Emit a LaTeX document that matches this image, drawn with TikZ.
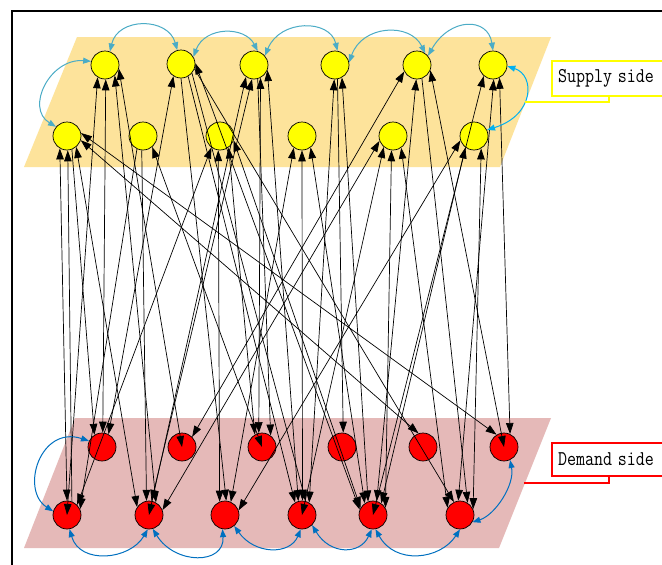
\documentclass[tikz,border=0pt]{standalone}
\usepackage{fontspec}
\usepackage{graphicx}
\usetikzlibrary{arrows.meta}
\definecolor{supbg}{RGB}{253,227,155}
\definecolor{dembg}{RGB}{229,185,184}
\definecolor{sarc}{RGB}{75,172,198}
\definecolor{sarcb}{RGB}{0,176,240}
\definecolor{darc}{RGB}{0,112,192}
\definecolor{ylw}{RGB}{255,255,0}
\definecolor{rd}{RGB}{255,0,0}
\begin{document}
\begin{tikzpicture}[x=1pt,y=-1pt,
  snode/.style={circle,draw=black,line width=0.7pt,fill=ylw,minimum size=28pt,inner sep=0pt},
  dnode/.style={circle,draw=black,line width=0.7pt,fill=rd,minimum size=28pt,inner sep=0pt},
  bi/.style={draw=black,line width=0.7pt,{Triangle[length=11pt,width=7.5pt]}-{Triangle[length=11pt,width=7.5pt]}},
  one/.style={draw=black,line width=0.7pt,-{Triangle[length=11pt,width=7.5pt]}},
  supcurve/.style={draw=sarc,line width=1pt,{Triangle[length=8pt,width=6pt]}-{Triangle[length=8pt,width=6pt]}},
  supcurveb/.style={draw=sarcb,line width=1pt,{Triangle[length=8pt,width=6pt]}-{Triangle[length=8pt,width=6pt]}},
  demcurve/.style={draw=darc,line width=1pt,{Triangle[length=8pt,width=6pt]}-{Triangle[length=8pt,width=6pt]}},
  labelbox/.style={line width=2pt,fill=white,anchor=north west,minimum width=150pt,inner xsep=6pt,text width=138pt,align=left,font=\ttfamily\fontsize{17.5}{18}\selectfont}
]
\useasboundingbox (0,0) rectangle (662,565);
\clip (0,0) rectangle (662,565);
\fill[white] (0,0) rectangle (662,565);
% frame
\draw[line width=1.6pt] (12,580) -- (12,11) -- (690,11);
% planes
\fill[supbg] (77,37) -- (551,37) -- (500,167) -- (24,167) -- cycle;
\fill[dembg] (75,418) -- (551,418) -- (499,548) -- (24,548) -- cycle;
% supply nodes
\node[snode] (T1) at (105,65) {};
\node[snode] (T2) at (181,64) {};
\node[snode] (T3) at (254,65) {};
\node[snode] (T4) at (335,65) {};
\node[snode] (T5) at (417,65) {};
\node[snode] (T6) at (493,65) {};
\node[snode] (B1) at (67,136) {};
\node[snode] (B2) at (143,136) {};
\node[snode] (B3) at (220,136) {};
\node[snode] (B4) at (302,136) {};
\node[snode] (B5) at (393,136) {};
\node[snode] (B6) at (474,136) {};
% demand nodes
\node[dnode] (U1) at (102,447) {};
\node[dnode] (U2) at (182,447) {};
\node[dnode] (U3) at (262,447) {};
\node[dnode] (U4) at (342,447) {};
\node[dnode] (U5) at (423,447) {};
\node[dnode] (U6) at (504,447) {};
\node[dnode] (L1) at (67,515) {};
\node[dnode] (L2) at (149,515) {};
\node[dnode] (L3) at (225,515) {};
\node[dnode] (L4) at (302,515) {};
\node[dnode] (L5) at (373,515) {};
\node[dnode] (L6) at (460,515) {};
% links
\draw[bi] (T1.-121) -- (L1.center);
\draw[bi] (T1.-87) -- (U1.87);
\draw[bi] (T1.-47) -- (L2.61);
\draw[bi] (T1.-15) -- (U2.center);
\draw[bi] (T2.-122) -- (U1.63);
\draw[bi] (T2.3) -- (L5.158);
\draw[bi] (T3.-124) -- (L2.center);
\draw[bi] (T3.-98) -- (L2.80);
\draw[bi] (T3.-63) -- (U3.103);
\draw[bi] (T3.-21) -- (L4.105);
\draw[bi] (T4.-93) -- (L4.60);
\draw[bi] (T4.-61) -- (L5.110);
\draw[bi] (T5.-153) -- (U2.45);
\draw[bi] (T5.-93) -- (L5.75);
\draw[bi] (T5.-22) -- (U6.center);
\draw[bi] (T6.-130) -- (L5.center);
\draw[bi] (T6.-87) -- (L6.97);
\draw[bi] (T6.-63) -- (U6.65);
\draw[bi] (B1.-120) -- (L1.90);
\draw[one] (L1.70) -- (B1.-87);
\draw[bi] (B1.-50) -- (L2.146);
\draw[bi] (B1.12) -- (U6.121);
\draw[bi] (B1.-17) -- (U5.108);
\draw[bi] (B2.-50) -- (U3.center);
\draw[bi] (B3.-127) -- (L1.45);
\draw[bi] (B3.-97) -- (L3.112);
\draw[bi] (B3.-53) -- (U3.120);
\draw[bi] (B3.-18) -- (L5.150);
\draw[bi] (B4.-125) -- (L3.66);
\draw[bi] (B4.-90) -- (L4.88);
\draw[bi] (B4.-53) -- (L5.125);
\draw[bi] (B5.-160) -- (L2.20);
\draw[bi] (B5.-130) -- (L4.center);
\draw[bi] (B5.-96) -- (L5.30);
\draw[bi] (B5.-55) -- (L6.150);
\draw[bi] (B6.-162) -- (L3.19);
\draw[bi] (B6.-127) -- (L5.55);
\draw[bi] (B6.-60) -- (L6.24);
\draw[one] (B1.-70) -- (U1.122);
\draw[one] (B2.-115) -- (L1.24);
\draw[one] (B2.-95) -- (L2.100);
\draw[one] (T2.-90) -- (L3.85);
\draw[one] (T2.-60) -- (L4.119);
\draw[one] (T2.-40) -- (L4.75);
\draw[one] (T4.-80) -- (U4.85);
\draw[one] (T3.-75) -- (U3.53);
\draw[one] (T2.-20) -- (L6.115);
\draw[one] (T5.-70) -- (L6.58);
% supply arcs
\draw[supcurve] (T1.70) .. controls (118,17) and (168,17) .. (T2.105);
\draw[supcurve] (T2.30) .. controls (205,26) and (245,26) .. (T3.75);
\draw[supcurve] (T3.40) .. controls (280,19) and (330,19) .. (T4.80);
\draw[supcurve] (T4.10) .. controls (362,25) and (410,22) .. (T5.55);
\draw[supcurve] (T5.40) .. controls (450,17) and (488,17) .. (T6.90);
\draw[supcurve] (T1.165) .. controls (50,58) and (25,108) .. (B1.140);
\draw[supcurveb] (T6.-5) .. controls (535,75) and (535,115) .. (B6.25);
% demand arcs
\draw[demcurve] (U1.155) .. controls (40,425) and (20,490) .. (L1.165);
\draw[demcurve] (L1.-80) .. controls (80,565) and (130,560) .. (L2.-95);
\draw[demcurve] (L2.-75) .. controls (175,565) and (225,565) .. (L3.-100);
\draw[demcurve] (L3.-50) .. controls (255,555) and (290,555) .. (L4.-95);
\draw[demcurve] (L4.-45) .. controls (330,555) and (360,555) .. (L5.-95);
\draw[demcurve] (L5.-80) .. controls (395,565) and (440,560) .. (L6.-90);
\draw[demcurve] (L6.-30) .. controls (495,515) and (515,485) .. (U6.-65);
% labels
\node[labelbox,draw=ylw,minimum height=35pt] (SL) at (551,60) {\scalebox{1}[1.2]{Supply side}};
\coordinate (SLtip) at (525,102);
\draw[ylw,line width=2pt] ([xshift=58pt]SL.south west) |- (SLtip);
\node[labelbox,draw=rd,minimum height=33pt] (DL) at (551,442) {\scalebox{1}[1.2]{Demand side}};
\coordinate (DLtip) at (524,483);
\draw[rd,line width=2pt] ([xshift=58pt]DL.south west) |- (DLtip);
\end{tikzpicture}
\end{document}
